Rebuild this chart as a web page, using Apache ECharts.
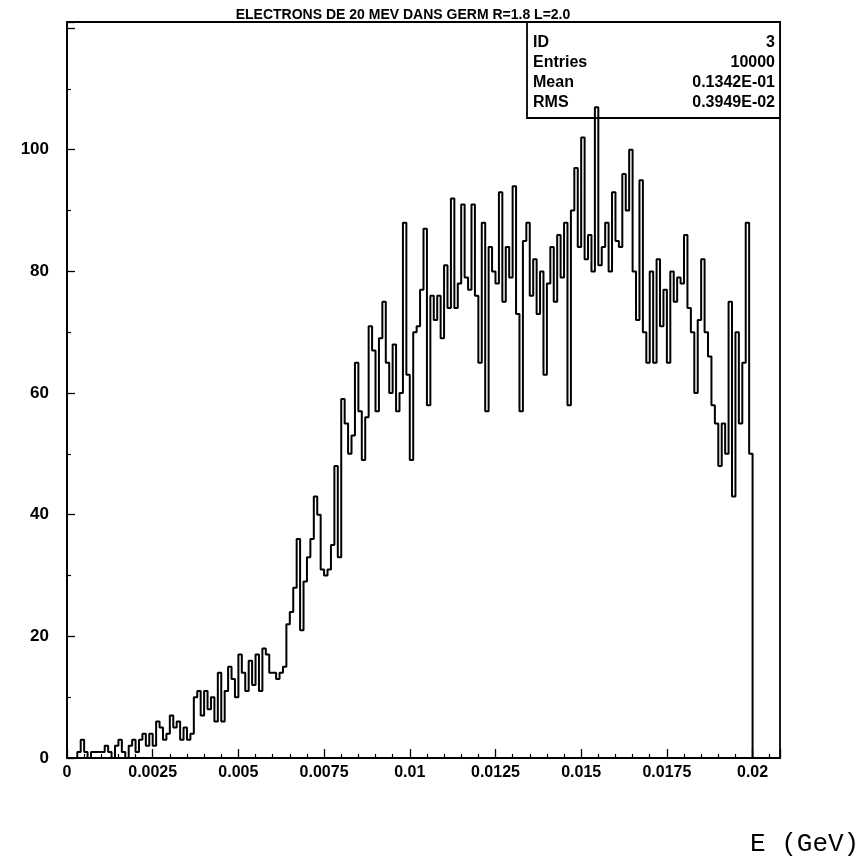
<!DOCTYPE html>
<html><head><meta charset="utf-8">
<script src="https://cdn.jsdelivr.net/npm/echarts@6/dist/echarts.min.js"></script>
<style>html,body{margin:0;padding:0;background:#fff}#c{width:862px;height:860px}</style>
</head><body><div id="c"></div>
<script>
const titleText = 'ELECTRONS DE 20 MEV DANS GERM R=1.8 L=2.0';
const xAxisTitle = 'E (GeV)';
const binLow = 0;
const binWidth = 0.0001;
const nBins = 200;
const counts = [
  0,0,0,1,3,1,0,1,1,1,
  1,2,1,0,2,3,1,0,2,3,
  1,3,4,2,4,2,6,5,3,4,
  7,5,6,3,5,3,4,10,11,7,
  11,8,10,6,14,6,11,15,13,10,
  17,14,11,16,12,17,11,18,17,14,
  14,13,14,15,22,24,28,36,21,29,
  33,36,43,40,31,30,31,35,48,33,
  59,55,50,53,65,57,49,56,71,67,
  57,69,75,65,60,68,57,60,88,63,
  49,70,71,77,87,58,76,72,76,69,
  81,74,92,74,78,91,79,77,91,76,
  65,88,57,84,80,78,93,75,84,79,
  94,73,57,85,88,76,82,73,80,63,
  78,84,75,86,79,88,58,90,97,84,
  102,82,86,80,107,81,84,88,80,93,
  85,84,96,90,100,80,72,95,70,65,
  80,65,82,71,77,65,80,75,79,78,
  86,74,70,60,72,82,70,66,58,55,
  48,55,50,75,43,70,55,65,88,50
];
const xMin = 0, xMax = 0.0208, xStep = 0.0025;
const yMin = 0, yMax = 121, yStep = 20;
const xTickValues = [0,0.0025,0.005,0.0075,0.01,0.0125,0.015,0.0175,0.02];
const xTickLabels = ['0','0.0025','0.005','0.0075','0.01','0.0125','0.015','0.0175','0.02'];
const yTickValues = [0,20,40,60,80,100];
const yTickLabels = ['0','20','40','60','80','100'];
const statsNames = ['ID','Entries','Mean','RMS'];
const statsValues = ['3','10000','0.1342E-01','0.3949E-02'];

// step outline of the histogram, built from the bin edges and counts
const pts = [[binLow, 0]];
for (let i = 0; i < nBins; i++) pts.push([binLow + i * binWidth, counts[i]]);
pts.push([binLow + nBins * binWidth, 0]);
pts.push([xMax, 0]);

function lab(vals, labs) {
  return function (v) {
    for (let k = 0; k < vals.length; k++) if (Math.abs(vals[k] - v) < 1e-9 * (1 + Math.abs(v))) return labs[k];
    return '';
  };
}

const font = 'Liberation Sans';
const boxL = 527, boxR = 780, boxT = 22, rowH = 20;
const stats = [];
stats.push({type:'rect', shape:{x:boxL, y:boxT, width:boxR-boxL, height:rowH*statsNames.length+16},
  style:{fill:'#fff', stroke:'#000', lineWidth:1.8}});
statsNames.forEach((n, k) => {
  stats.push({type:'text', x: boxL+6, y: boxT+21+k*rowH, style:{text:n, font:'bold 16px '+font, fill:'#000', textVerticalAlign:'middle'}});
  stats.push({type:'text', x: boxR-5, y: boxT+21+k*rowH, style:{text:statsValues[k], font:'bold 16px '+font, fill:'#000', textAlign:'right', textVerticalAlign:'middle'}});
});

const chart = echarts.init(document.getElementById('c'), null, {renderer:'canvas'});
chart.setOption({
  animation: false,
  backgroundColor: '#fff',
  title: [
    {text: titleText, left: 398, top: 3, textAlign: 'center',
     textStyle: {fontFamily: font, fontSize: 14, fontWeight: 'bold', color: '#000'}},
    {text: xAxisTitle, left: 745, top: 826,
     textStyle: {fontFamily: 'Liberation Mono', fontSize: 26, fontWeight: 'normal', color: '#000'}}
  ],
  grid: {left: 67, right: 82, top: 22, bottom: 102, show: true, borderColor: '#000', borderWidth: 1.8, containLabel: false},
  xAxis: {
    type: 'value', min: xMin, max: xMax, interval: xStep,
    axisLine: {show: true, lineStyle: {color: '#000', width: 1.8}},
    axisTick: {show: true, inside: true, length: 9, lineStyle: {color: '#000', width: 1.3}},
    minorTick: {show: true, splitNumber: 5, length: 4, lineStyle: {color: '#000', width: 1.2}},
    splitLine: {show: false},
    axisLabel: {formatter: lab(xTickValues, xTickLabels), margin: 7, color: '#000',
      fontFamily: font, fontSize: 16, fontWeight: 'bold'}
  },
  yAxis: {
    type: 'value', min: yMin, max: yMax, interval: yStep,
    axisLine: {show: true, lineStyle: {color: '#000', width: 1.8}},
    axisTick: {show: true, inside: true, length: 8, lineStyle: {color: '#000', width: 1.3}},
    minorTick: {show: true, splitNumber: 2, length: 4, lineStyle: {color: '#000', width: 1.2}},
    splitLine: {show: false},
    axisLabel: {formatter: lab(yTickValues, yTickLabels), margin: 18, color: '#000',
      fontFamily: font, fontSize: 17, fontWeight: 'bold'}
  },
  graphic: stats,
  series: [{
    type: 'line', step: 'end', data: pts, symbol: 'none',
    lineStyle: {color: '#000', width: 2}, z: 3
  }]
});
</script></body></html>
